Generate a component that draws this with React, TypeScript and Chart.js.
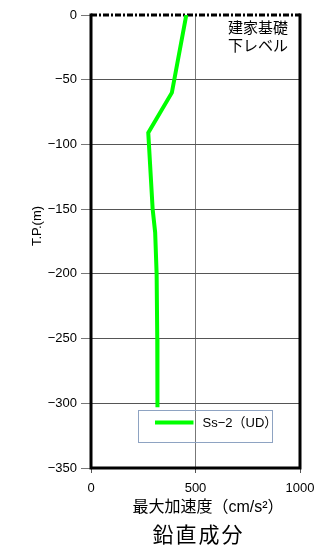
import React, { useEffect, useRef } from "react";
import { Chart, registerables } from "chart.js";

Chart.register(...registerables);

// ---- data ----
const depthTP = [0, -60, -91, -150, -168, -200, -250, -303];
const accelUD = [456, 387, 274, 295, 307, 314, 317, 318];
const seriesLabel = "Ss\u22122\uFF08UD\uFF09";
const refLevelY = [0, 0];
const refLevelX = [0, 1000];
const xTicks = [0, 500, 1000];
const yTicks = [0, -50, -100, -150, -200, -250, -300, -350];
const xTitle = "最大加速度\uFF08cm/s²\uFF09";
const yTitle = "T.P.(m)";
const mainTitle = "鉛直成分";
const refLabelLines = ["建家基礎", "下レベル"];

const FONT = "'Liberation Sans', Arial, 'Noto Sans CJK JP', sans-serif";
const JFONT = "'Liberation Sans', 'Noto Sans CJK JP', sans-serif";

export default function App() {
  const ref = useRef<HTMLCanvasElement | null>(null);

  useEffect(() => {
    document.body.style.margin = "0";
    const canvas = ref.current!;
    const decor = {
      id: "decor",
      afterDatasetsDraw(chart: any) {
        const { ctx, chartArea: a } = chart;
        ctx.save();
        ctx.strokeStyle = "#000";
        ctx.lineWidth = 3;
        ctx.beginPath();
        ctx.moveTo(a.left, a.top - 1.5);
        ctx.lineTo(a.left, a.bottom);
        ctx.lineTo(a.right, a.bottom);
        ctx.lineTo(a.right, a.top - 1.5);
        ctx.stroke();
        ctx.restore();
      },
      afterDraw(chart: any) {
        const { ctx, chartArea: a } = chart;
        ctx.save();
        ctx.fillStyle = "#000";
        ctx.font = `15px ${JFONT}`;
        ctx.textAlign = "left";
        ctx.textBaseline = "middle";
        ctx.fillText(refLabelLines[0], a.left + 137, a.top + 14);
        ctx.fillText(refLabelLines[1], a.left + 137, a.top + 32);
        // legend box
        const lx = a.left + 47.5, ly = a.top + 395.5, lw = 134, lh = 32;
        ctx.strokeStyle = "#8ea3c2";
        ctx.lineWidth = 1;
        ctx.strokeRect(lx, ly, lw, lh);
        ctx.strokeStyle = "#00ff00";
        ctx.lineWidth = 4;
        ctx.beginPath();
        ctx.moveTo(lx + 16.5, ly + 12);
        ctx.lineTo(lx + 55, ly + 12);
        ctx.stroke();
        ctx.font = `13px ${JFONT}`;
        ctx.fillText(seriesLabel, lx + 64, ly + 13);
        // axis titles
        ctx.font = `16px ${JFONT}`;
        ctx.textAlign = "center";
        ctx.fillText(xTitle, 208, 508);
        ctx.font = `21px ${JFONT}`;
        (ctx as any).letterSpacing = "2px";
        ctx.fillText(mainTitle, 198.5, 536);
        (ctx as any).letterSpacing = "0px";
        ctx.translate(37, 226);
        ctx.rotate(-Math.PI / 2);
        ctx.font = `13px ${JFONT}`;
        ctx.fillText(yTitle, 0, 0);
        ctx.restore();
      },
    };

    const chart = new Chart(canvas, {
      type: "line",
      data: {
        datasets: [
          {
            label: seriesLabel,
            data: accelUD.map((x, i) => ({ x, y: depthTP[i] })),
            borderColor: "#00ff00",
            backgroundColor: "#00ff00",
            borderWidth: 4,
            pointRadius: 0,
            tension: 0,
          },
          {
            label: "ref",
            data: refLevelX.map((x, i) => ({ x, y: refLevelY[i] })),
            borderColor: "#000",
            borderWidth: 3,
            borderDash: [6, 2, 2, 2],
            pointRadius: 0,
            clip: false,
          } as any,
        ],
      },
      options: {
        animation: false,
        responsive: false,
        devicePixelRatio: 1,
        layout: { padding: { left: 0, right: 16, top: 15, bottom: 0 } },
        plugins: { legend: { display: false }, tooltip: { enabled: false } },
        scales: {
          x: {
            type: "linear",
            min: 0,
            max: 1000,
            afterBuildTicks: (s: any) => {
              s.ticks = xTicks.map((v) => ({ value: v }));
            },
            afterFit: (s: any) => {
              s.height = 80;
              s.paddingLeft = 0;
              s.paddingRight = 0;
            },
            border: { display: false },
            grid: {
              color: (c: any) =>
                c.tick && (c.tick.value === 0 || c.tick.value === 1000) ? "rgba(0,0,0,0)" : "#777",
              tickColor: "#555",
              tickLength: 5,
            },
            ticks: {
              padding: 8,
              color: "#000",
              maxRotation: 0,
              font: { size: 13, family: FONT },
              callback: (v: any) => String(v),
            },
          },
          y: {
            type: "linear",
            min: -350,
            max: 0,
            afterBuildTicks: (s: any) => {
              s.ticks = yTicks.map((v) => ({ value: v }));
            },
            afterFit: (s: any) => {
              s.width = 91;
              s.paddingTop = 0;
              s.paddingBottom = 0;
            },
            border: { display: false },
            grid: {
              color: (c: any) =>
                c.tick && (c.tick.value === 0 || c.tick.value === -350) ? "rgba(0,0,0,0)" : "#555",
              tickColor: "#777",
              tickLength: 10,
            },
            ticks: {
              padding: 4,
              color: "#000",
              font: { size: 13, family: FONT },
              callback: (v: any) => String(v).replace("-", "\u2212"),
            },
          },
        },
      },
      plugins: [decor],
    });
    return () => chart.destroy();
  }, []);

  return <canvas ref={ref} width={316} height={548} style={{ display: "block" }} />;
}
